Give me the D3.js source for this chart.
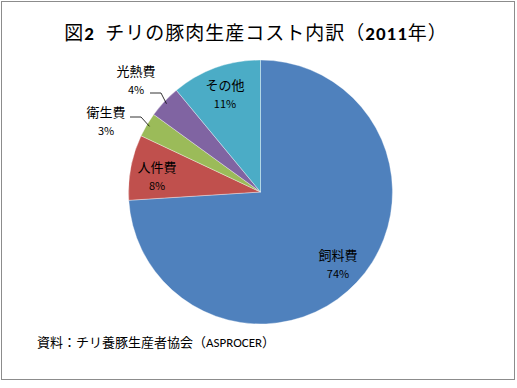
<!DOCTYPE html>
<html lang="ja">
<head>
<meta charset="utf-8">
<title>チリの豚肉生産コスト内訳</title>
<style>
  body { margin: 0; background: #fff; }
  text { font-family: "Noto Sans CJK JP", "Noto Sans", sans-serif; fill: #000; }
</style>
<script src="https://cdn.jsdelivr.net/npm/d3@7"></script>
</head>
<body>
<div id="chart"></div>
<script>
// data
var categories = ["飼料費", "人件費", "衛生費", "光熱費", "その他"];
var values = [74, 8, 3, 4, 11];
var colors = ["#4F81BD", "#C0504D", "#9BBB59", "#8064A2", "#4BACC6"];
// label positions (label centre, outside ones get a leader line)
var labelPos = [[338, 256], [157, 168], [106, 113], [136, 72], [225, 86]];
var outside = [false, false, true, true, false];

var W = 517, H = 388,
    cx = 260.5, cy = 192, r = 132;

var svg = d3.select("#chart").append("svg")
    .attr("width", W).attr("height", H);

svg.append("rect")
    .attr("x", 1.5).attr("y", 1.5)
    .attr("width", 513).attr("height", 378)
    .attr("fill", "#fff").attr("stroke", "#8c8c8c").attr("stroke-width", 1);

// title
var title = svg.append("text")
    .attr("x", 256).attr("y", 40)
    .attr("text-anchor", "middle")
    .style("font-size", "19px")
    .style("letter-spacing", "1px");
title.append("tspan").text("図");
title.append("tspan").style("font-weight", "bold").style("font-family", "Carlito, 'Liberation Sans', sans-serif").text("2");
title.append("tspan").text("\u00a0 チリの豚肉生産コスト内訳（");
title.append("tspan").style("font-weight", "bold").style("font-family", "Carlito, 'Liberation Sans', sans-serif").text("2011");
title.append("tspan").text("年）");

var pie = d3.pie().sort(null).value(function (d) { return d; });
var arcs = pie(values);
var arc = d3.arc().innerRadius(0).outerRadius(r);

var g = svg.append("g").attr("transform", "translate(" + cx + "," + cy + ")");
g.selectAll("path").data(arcs).enter().append("path")
    .attr("d", arc)
    .attr("fill", function (d, i) { return colors[i]; })
    .attr("stroke", "#fff").attr("stroke-opacity", 0.6).attr("stroke-width", 0.6);

// leader lines for the small slices
var edge = d3.arc().innerRadius(r - 3).outerRadius(r - 3);
arcs.forEach(function (d, i) {
    if (!outside[i]) return;
    var p = edge.centroid(d);
    var lx = labelPos[i][0], ly = labelPos[i][1];
    var sx = (i === 2) ? lx + 24 : lx + 14;
    var sy = (i === 2) ? ly + 4 : ly + 21;
    svg.append("polyline")
        .attr("points", [[sx, sy], [sx + 11, sy], [cx + p[0], cy + p[1]]].map(function (q) { return q.join(","); }).join(" "))
        .attr("fill", "none").attr("stroke", "#000").attr("stroke-width", 0.8);
});

var labels = svg.append("g").selectAll("g").data(arcs).enter().append("g")
    .attr("transform", function (d, i) { return "translate(" + labelPos[i][0] + "," + labelPos[i][1] + ")"; });
labels.append("text")
    .attr("text-anchor", "middle").attr("y", 4)
    .style("font-size", "13px")
    .text(function (d, i) { return categories[i]; });
labels.append("text")
    .attr("text-anchor", "middle").attr("y", 22)
    .style("font-size", "11px")
    .text(function (d, i) { return values[i] + "%"; });

// source
var src = svg.append("text")
    .attr("x", 37).attr("y", 347)
    .style("font-size", "13px");
src.append("tspan").text("資料：チリ養豚生産者協会（");
src.append("tspan").style("font-family", "Carlito, 'Liberation Sans', sans-serif").text("ASPROCER");
src.append("tspan").text("）");
</script>
</body>
</html>
